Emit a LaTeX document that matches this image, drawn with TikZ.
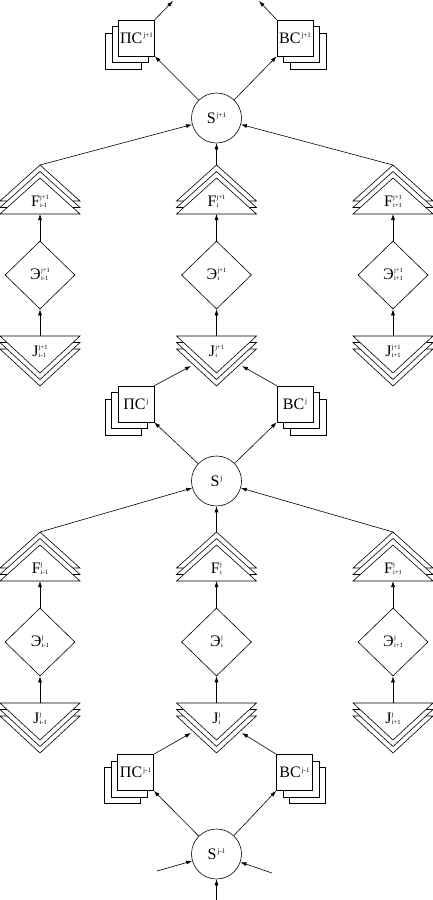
\documentclass[tikz,border=0pt]{standalone}
\usepackage{fontspec}
\setmainfont{Liberation Serif}
\usetikzlibrary{arrows.meta,shapes.geometric,shadows}

\newcommand\supsub[2]{\hspace{0.3pt}\raisebox{-0.5pt}{\fontsize{6.5}{7.6}\selectfont\begin{tabular}[b]{@{}l@{}}#1\\#2\end{tabular}}}
\newcommand\supx[1]{\hspace{1pt}\raisebox{5.6pt}{\fontsize{7}{7}\selectfont #1}}

\tikzset{
  conn/.style={-{Latex[length=6pt,width=4pt]}, line width=0.6pt},
  shp/.style={draw, line width=0.6pt, fill=white},
  lbl/.style={font=\fontsize{16}{16}\selectfont, inner sep=0pt},
  circ/.style={circle, draw, line width=0.6pt, fill=white, minimum size=50pt, inner sep=0pt, font=\fontsize{16}{16}\selectfont},
  boxL/.style={draw, fill=white, line width=0.6pt, minimum size=36pt, inner sep=0pt,
     font=\fontsize{16}{16}\selectfont,
     double copy shadow={shadow xshift=-6.5pt, shadow yshift=-6.5pt, draw, fill=white, line width=0.6pt}},
  boxR/.style={draw, fill=white, line width=0.6pt, minimum size=36pt, inner sep=0pt,
     font=\fontsize{16}{16}\selectfont,
     double copy shadow={shadow xshift=6.5pt, shadow yshift=-6.5pt, draw, fill=white, line width=0.6pt}},
  dia/.style={diamond, draw, line width=0.6pt, fill=white, minimum width=70pt, minimum height=68pt, inner sep=0pt, font=\fontsize{16}{16}\selectfont}
}

% upward stacked triangle: x, ybase, name, label
\newcommand\ftri[4]{%
  \foreach \k in {2,1,0}{\path[shp] (#1-40,#2-6.5*\k) -- (#1,#2-36-6.5*\k) -- (#1+40,#2-6.5*\k) -- cycle;}
  \node[lbl] (#3) at (#1,#2-12) {#4};
  \coordinate (#3top) at (#1,#2-49);
  \coordinate (#3bot) at (#1,#2);
}
% downward stacked triangle: x, ytop, name, label
\newcommand\jtri[4]{%
  \foreach \k in {2,1,0}{\path[shp] (#1-40,#2+6.5*\k) -- (#1,#2+37+6.5*\k) -- (#1+40,#2+6.5*\k) -- cycle;}
  \node[lbl] (#3) at (#1,#2+16) {#4};
  \coordinate (#3top) at (#1,#2);
  \coordinate (#3L) at (#1-25.5,#2+30);
  \coordinate (#3R) at (#1+25.5,#2+30);
}

\begin{document}
\begin{tikzpicture}[x=1pt,y=-1pt]
\useasboundingbox (0,0) rectangle (433,900);

% ================= level j+1 =================
\node[boxL] (PS3) at (136.5,38) {ПС\supx{j+1}};
\node[boxR] (BS3) at (295,38) {ВС\supx{j+1}};
\coordinate (out1) at (173,1);
\coordinate (out2) at (259,1);
\node[circ] (S3) at (216.5,118) {S\supx{j+1}};

\ftri{40}{214}{FL3}{F\supsub{j+1}{i-1}}
\ftri{216.5}{214}{FM3}{F\supsub{j+1}{i}}
\ftri{393}{214}{FR3}{F\supsub{j+1}{i+1}}

\node[dia] (EL3) at (40,275) {Э\supsub{j+1}{i-1}};
\node[dia] (EM3) at (216.5,275) {Э\supsub{j+1}{i}};
\node[dia] (ER3) at (393,275) {Э\supsub{j+1}{i+1}};

\jtri{40}{336}{JL3}{J\supsub{j+1}{i-1}}
\jtri{216.5}{336}{JM3}{J\supsub{j+1}{i}}
\jtri{393}{336}{JR3}{J\supsub{j+1}{i+1}}

% ================= level j =================
\node[boxL] (PS2) at (136,404) {ПС\supx{j}};
\node[boxR] (BS2) at (295,404) {ВС\supx{j}};
\node[circ] (S2) at (216.5,481) {S\supx{j}};

\ftri{40}{581}{FL2}{F\supsub{j}{i-1}}
\ftri{216.5}{581}{FM2}{F\supsub{j}{i}}
\ftri{393}{581}{FR2}{F\supsub{j}{i+1}}

\node[dia] (EL2) at (40,642) {Э\supsub{j}{i-1}};
\node[dia] (EM2) at (216.5,642) {Э\supsub{j}{i}};
\node[dia] (ER2) at (393,642) {Э\supsub{j}{i+1}};

\jtri{40}{703}{JL2}{J\supsub{j}{i-1}}
\jtri{216.5}{703}{JM2}{J\supsub{j}{i}}
\jtri{393}{703}{JR2}{J\supsub{j}{i+1}}

% ================= level j-1 =================
\node[boxL] (PS1) at (135.5,772.5) {ПС\supx{j-1}};
\node[boxR] (BS1) at (294.5,772.5) {ВС\supx{j-1}};
\node[circ] (S1) at (216.5,854) {S\supx{j-1}};
\coordinate (in1) at (157,871);
\coordinate (in2) at (216.5,900);
\coordinate (in3) at (272,873);

% ================= connectors =================
\draw[conn] (PS3.north east) -- (out1);
\draw[conn] (BS3.north west) -- (out2);
\draw[conn] (S3) -- (PS3.south east);
\draw[conn] (S3) -- (BS3.south west);
\draw[conn] (FL3top) -- (S3);
\draw[conn] (FM3top) -- (S3);
\draw[conn] (FR3top) -- (S3);
\foreach \c in {L,M,R}{
  \draw[conn] (E\c3.north) -- (F\c3bot);
  \draw[conn] (J\c3top) -- (E\c3.south);
  \draw[conn] (E\c2.north) -- (F\c2bot);
  \draw[conn] (J\c2top) -- (E\c2.south);
}
\draw[conn] (PS2.north east) -- (JM3L);
\draw[conn] (BS2.north west) -- (JM3R);
\draw[conn] (S2) -- (PS2.south east);
\draw[conn] (S2) -- (BS2.south west);
\draw[conn] (FL2top) -- (S2);
\draw[conn] (FM2top) -- (S2);
\draw[conn] (FR2top) -- (S2);

\draw[conn] (PS1.north east) -- (JM2L);
\draw[conn] (BS1.north west) -- (JM2R);
\draw[conn] (S1) -- (PS1.south east);
\draw[conn] (S1) -- (BS1.south west);
\draw[conn] (in1) -- (S1);
\draw[conn] (in2) -- (S1);
\draw[conn] (in3) -- (S1);
\end{tikzpicture}
\end{document}
